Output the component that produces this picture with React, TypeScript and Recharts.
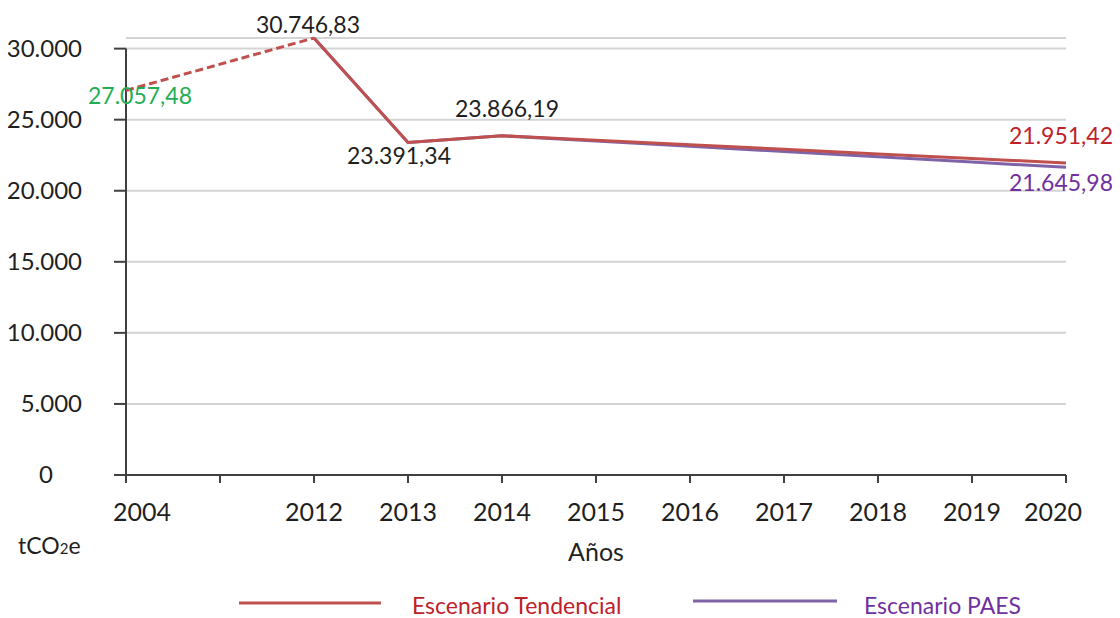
import { LineChart, Line, XAxis, YAxis, CartesianGrid, Legend, ReferenceLine } from "recharts";

// valores (tCO2e)
const years = ["2004", "", "2012", "2013", "2014", "2015", "2016", "2017", "2018", "2019", "2020"];
const historico = [27057.48, null, 30746.83, null, null, null, null, null, null, null, null];
const tendencial = [null, null, 30746.83, 23391.34, 23866.19, 23560, 23240, 22920, 22590, 22270, 21951.42];
const paes = [null, null, 30746.83, 23391.34, 23866.19, 23500, 23130, 22760, 22390, 22020, 21645.98];
const yTicks = [0, 5000, 10000, 15000, 20000, 25000, 30000];

const data = years.map((year, i) => ({
  year,
  historico: historico[i],
  tendencial: tendencial[i],
  paes: paes[i],
}));

const FONT = "Lato, 'Open Sans', sans-serif";
const RED = "#c0504d";
const PURPLE = "#7f63a8";
const DARK = "#1f1f1f";
const AXIS = "#404040";

// dónde va cada etiqueta respecto a su punto
type LabelPos = { dx: number; dy: number; fill: string };
const historicoLabels: Record<number, LabelPos> = {
  0: { dx: 14, dy: 14, fill: "#1fae55" },
  2: { dx: -6, dy: -5, fill: DARK },
};
const tendencialLabels: Record<number, LabelPos> = {
  3: { dx: -9, dy: 21, fill: DARK },
  4: { dx: 5, dy: -19, fill: DARK },
  10: { dx: -5, dy: -19, fill: "#c0202a" },
};
const paesLabels: Record<number, LabelPos> = {
  10: { dx: -5, dy: 24, fill: "#7030a0" },
};

function fmt(v: number, decimals: number) {
  const [int, dec] = v.toFixed(decimals).split(".");
  const withDots = int.replace(/\B(?=(\d{3})+(?!\d))/g, ".");
  return dec ? `${withDots},${dec}` : withDots;
}

function pointLabel(map: Record<number, LabelPos>) {
  return (props: any) => {
    const pos = map[props.index];
    if (!pos || props.value == null) return <g />;
    return (
      <text
        x={props.x + pos.dx}
        y={props.y + pos.dy}
        textAnchor="middle"
        fontFamily={FONT}
        fontSize={23}
        fill={pos.fill}
      >
        {fmt(Number(props.value), 2)}
      </text>
    );
  };
}

function YTick({ x, y, payload }: any) {
  const dx = payload.value === 0 ? -29 : 0;
  return (
    <text x={x + dx} y={y + 8} textAnchor="end" fontFamily={FONT} fontSize={24} fill={DARK}>
      {fmt(payload.value, 0)}
    </text>
  );
}

function XTick({ x, y, payload, index }: any) {
  let dx = 0;
  if (index === 0) dx = 16;
  if (index === years.length - 1) dx = -13;
  return (
    <text x={x + dx} y={y + 18} textAnchor="middle" fontFamily={FONT} fontSize={25} fill={DARK}>
      {payload.value}
    </text>
  );
}

function UnitLabel({ viewBox }: any) {
  return (
    <text
      x={viewBox.x + 10}
      y={viewBox.y + viewBox.height + 79}
      fontFamily={FONT}
      fontSize={23}
      fill={DARK}
    >
      tCO
      <tspan fontSize={15}>2</tspan>
      <tspan>e</tspan>
    </text>
  );
}

function LegendBox() {
  return (
    <svg width={1104} height={30} style={{ display: "block" }}>
      <line x1={231} x2={373} y1={15} y2={15} stroke={RED} strokeWidth={3} />
      <text x={404} y={26} fontFamily={FONT} fontSize={23} fill="#c0202a">
        Escenario Tendencial
      </text>
      <line x1={685} x2={829} y1={13} y2={13} stroke={PURPLE} strokeWidth={3} />
      <text x={856} y={26} fontFamily={FONT} fontSize={23} fill="#7030a0">
        Escenario PAES
      </text>
    </svg>
  );
}

export default function App() {
  return (
    <LineChart
      width={1104}
      height={610}
      data={data}
      margin={{ top: 30, right: 46, bottom: 0, left: 0 }}
    >
      <CartesianGrid vertical={false} stroke="#d4d4d4" strokeWidth={2} />
      <XAxis
        dataKey="year"
        interval={0}
        height={113}
        tickSize={8}
        tickMargin={20}
        tick={<XTick />}
        axisLine={{ stroke: AXIS, strokeWidth: 2 }}
        tickLine={{ stroke: AXIS, strokeWidth: 2 }}
        label={{
          value: "Años",
          position: "insideBottom",
          offset: 27,
          fontFamily: FONT,
          fontSize: 25,
          fill: DARK,
        }}
      />
      <YAxis
        width={118}
        domain={[0, "dataMax"]}
        ticks={yTicks}
        tickSize={12}
        tickMargin={32}
        tick={<YTick />}
        axisLine={false}
        tickLine={{ stroke: AXIS, strokeWidth: 2 }}
        label={<UnitLabel />}
      />
      <ReferenceLine
        segment={[
          { x: "2004", y: 0 },
          { x: "2004", y: 30000 },
        ]}
        stroke={AXIS}
        strokeWidth={2}
      />
      <Legend
        content={<LegendBox />}
        wrapperStyle={{ left: 0, top: 580, width: 1104, height: 30 }}
      />
      <Line
        dataKey="paes"
        name="Escenario PAES"
        stroke={PURPLE}
        strokeWidth={3}
        dot={false}
        activeDot={false}
        label={pointLabel(paesLabels)}
        isAnimationActive={false}
      />
      <Line
        dataKey="tendencial"
        name="Escenario Tendencial"
        stroke={RED}
        strokeWidth={3}
        dot={false}
        activeDot={false}
        label={pointLabel(tendencialLabels)}
        isAnimationActive={false}
      />
      <Line
        dataKey="historico"
        legendType="none"
        stroke={RED}
        strokeWidth={3}
        strokeDasharray="8 4"
        connectNulls
        dot={false}
        activeDot={false}
        label={pointLabel(historicoLabels)}
        isAnimationActive={false}
      />
    </LineChart>
  );
}
